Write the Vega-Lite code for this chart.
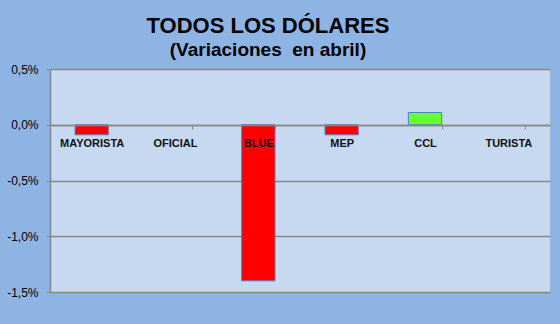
{
  "$schema": "https://vega.github.io/schema/vega-lite/v6.json",
  "autosize": "none",
  "width": 500,
  "height": 223,
  "padding": {"left": 50, "top": 69, "right": 10, "bottom": 32},
  "background": "#8DB4E2",
  "view": {"fill": "#C6D9F1", "stroke": null},
  "title": {
    "text": "TODOS LOS DÓLARES",
    "subtitle": "(Variaciones\u00a0 en abril)",
    "anchor": "middle",
    "frame": "group",
    "dx": -32,
    "offset": 2,
    "font": "Liberation Sans",
    "fontSize": 22,
    "fontWeight": "bold",
    "color": "#000000",
    "subtitleFont": "Liberation Sans",
    "subtitleFontSize": 19,
    "subtitleFontWeight": "bold",
    "subtitleColor": "#000000",
    "subtitlePadding": 3
  },
  "data": {
    "values": [
      {"tipo": "MAYORISTA", "variacion": -0.0009},
      {"tipo": "OFICIAL", "variacion": 0},
      {"tipo": "BLUE", "variacion": -0.014},
      {"tipo": "MEP", "variacion": -0.0009},
      {"tipo": "CCL", "variacion": 0.0011},
      {"tipo": "TURISTA", "variacion": 0}
    ]
  },
  "mark": {"type": "bar", "stroke": "#4F81BD", "strokeWidth": 1},
  "encoding": {
    "x": {
      "field": "tipo",
      "type": "nominal",
      "sort": null,
      "scale": {"paddingInner": 0.6, "paddingOuter": 0.3},
      "axis": {
        "title": null,
        "orient": "bottom",
        "offset": -167,
        "zindex": 1,
        "labelAngle": 0,
        "labelFont": "Liberation Sans",
        "labelFontSize": 11,
        "labelFontWeight": "bold",
        "labelColor": "#111111",
        "labelPadding": 8,
        "domainColor": "#878787",
        "domainWidth": 1.5,
        "tickColor": "#878787",
        "tickSize": 4,
        "tickBand": "extent",
        "ticks": true
      }
    },
    "y": {
      "field": "variacion",
      "type": "quantitative",
      "scale": {"domain": [-0.015, 0.005], "nice": false, "zero": false},
      "axis": {
        "title": null,
        "values": [-0.015, -0.01, -0.005, 0, 0.005],
        "labelExpr": "replace(replace(format(datum.value, '.1%'), '.', ','), '\u2212', '-')",
        "labelFont": "Liberation Sans",
        "labelFontSize": 12,
        "labelColor": "#000000",
        "labelPadding": 8,
        "grid": true,
        "gridColor": "#878787",
        "gridWidth": 1.5,
        "domainColor": "#878787",
        "domainWidth": 1.5,
        "tickColor": "#878787",
        "tickSize": 4
      }
    },
    "color": {
      "condition": {"test": "datum.variacion > 0", "value": "#66FF33"},
      "value": "#FF0000"
    },
    "strokeOpacity": {
      "condition": {"test": "datum.variacion == 0", "value": 0},
      "value": 1
    }
  }
}
